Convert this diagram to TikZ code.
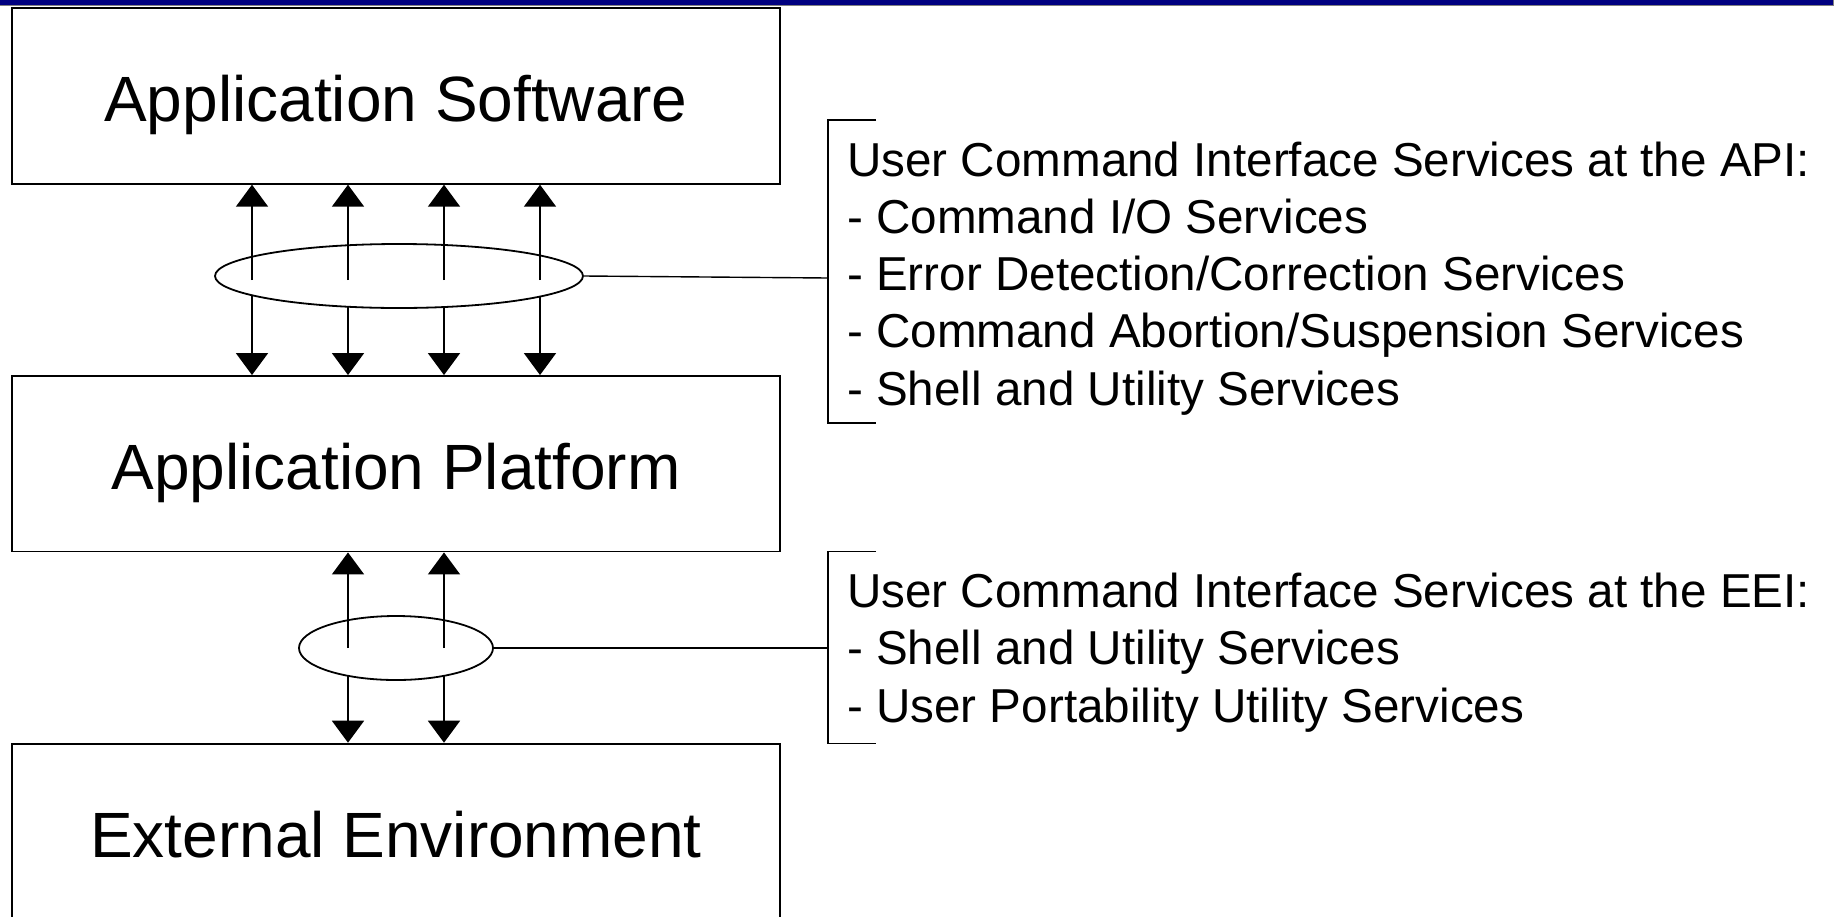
\documentclass[tikz,border=0pt]{standalone}
\usepackage{fontspec}
\setmainfont{Liberation Sans}
\usetikzlibrary{shapes.geometric,arrows.meta}
\definecolor{barblue}{RGB}{0,0,128}
\definecolor{bargray}{RGB}{128,128,128}
\begin{document}
\begin{tikzpicture}[x=1pt,y=-1pt,
  layer/.style={draw,line width=1.8pt,minimum width=768pt,minimum height=175.6pt,
    inner sep=0pt,font=\fontsize{64}{77}\selectfont,text height=51.4pt,text depth=0pt},
  bundle/.style={draw,ellipse,line width=1.8pt,inner sep=0pt},
  link/.style={line width=1.8pt,-{Triangle[length=22pt,width=32pt]}},
  svc/.style={anchor=base west,inner sep=0pt,font=\fontsize{47.6}{57.3}\selectfont},
  brace/.style={line width=1.4pt}]
\path[use as bounding box,clip] (0,0) rectangle (1836,916);

% title bar
\fill[barblue] (0,0) rectangle (1833,4.5);
\draw[bargray,line width=1pt] (0,5) -- (1833,5) -- (1833,0);

% layers
\node[layer] (app)  at (396,96)    {Application Software};
\node[layer] (plat) at (396,463.75){Application Platform};
\node[layer] (env)  at (396,831.4) {External Environment};

% interface bundles
\node[bundle,minimum width=368pt,minimum height=64pt] (api) at (399,276) {};
\node[bundle,minimum width=194pt,minimum height=64pt] (eei) at (396,648) {};

% API arrows
\foreach \x/\d in {252/295.3,348/306.7,444/307,540/296.6}{
  \draw[link] (\x,280) -- (\x,0 |- app.south);
  \draw[link] (\x,\d) -- (\x,0 |- plat.north);
}
% EEI arrows
\foreach \x in {348,444}{
  \draw[link] (\x,648) -- (\x,0 |- plat.south);
  \draw[link] (\x,675.8) -- (\x,0 |- env.north);
}

% brackets
\coordinate (b1) at (828,278);
\coordinate (b2) at (828,648);
\draw[brace] (876,120) -- (828,120) -- (828,423) -- (876,423);
\draw[brace] (876,551.5) -- (828,551.5) -- (828,743.6) -- (876,743.6);
\draw[brace] (api.east) -- (b1);
\draw[brace] (eei.east) -- (b2);

% service lists
\foreach \t [count=\i from 0] in {User Command Interface Services at the API:,
  - Command I/O Services,
  - Error Detection/Correction Services,
  - Command Abortion/Suspension Services,
  - Shell and Utility Services}{
  \node[svc] (apitext\i) at (847,176+57.3*\i) {\t};
}
\foreach \t [count=\i from 0] in {User Command Interface Services at the EEI:,
  - Shell and Utility Services,
  - User Portability Utility Services}{
  \node[svc] (eeitext\i) at (847,607+57.5*\i) {\t};
}
\end{tikzpicture}
\end{document}
